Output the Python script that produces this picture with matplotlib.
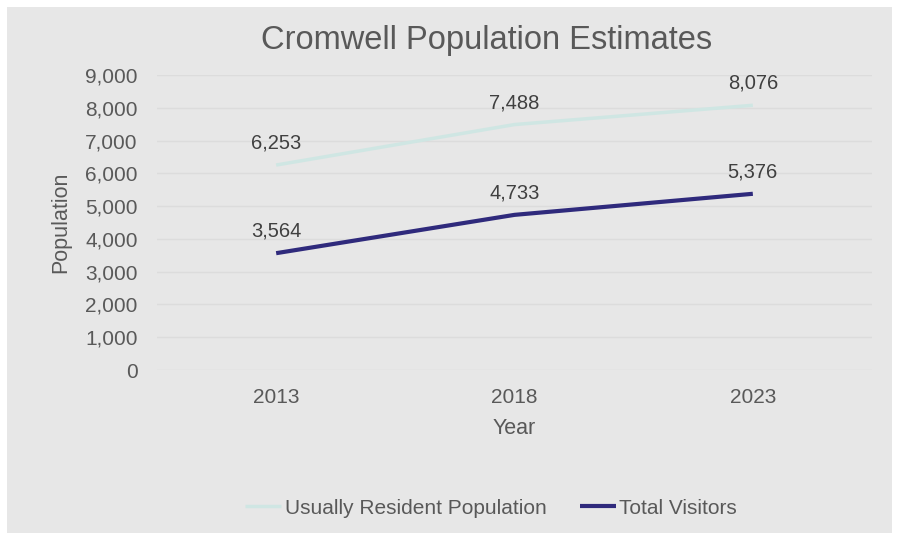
import matplotlib.pyplot as plt
from matplotlib.patches import Rectangle

# data
years = ["2013", "2018", "2023"]
resident = [6253, 7488, 8076]
visitors = [3564, 4733, 5376]

plt.rcParams['font.family'] = ['Liberation Sans', 'DejaVu Sans']

W, H = 899, 538
fig = plt.figure(figsize=(W / 100, H / 100), dpi=100, facecolor="white")
# grey chart area
fig.patches.append(Rectangle((7 / W, 5 / H), 885 / W, 526 / H, transform=fig.transFigure,
                             facecolor="#e7e7e7", edgecolor="none", zorder=-5))

ax = fig.add_axes([157 / W, 1 - 370 / H, 715 / W, 295 / H])
ax.set_facecolor("none")

x = list(range(len(years)))
ax.plot(x, resident, color="#cfe6e3", lw=2.5, solid_capstyle="butt", label="Usually Resident Population")
ax.plot(x, visitors, color="#2f2a7c", lw=3.0, solid_capstyle="butt", label="Total Visitors")

for i in x:
    ax.annotate(f"{resident[i]:,}", (i, resident[i]), xytext=(0, 9), textcoords="offset points",
                ha="center", va="bottom", fontsize=14.5, color="#404040")
    ax.annotate(f"{visitors[i]:,}", (i, visitors[i]), xytext=(0, 9), textcoords="offset points",
                ha="center", va="bottom", fontsize=14.5, color="#404040")

ax.set_xlim(-0.5, 2.5)
ax.set_ylim(0, 9000)
ax.set_yticks(range(0, 9001, 1000))
ax.set_yticklabels([f"{v:,}" for v in range(0, 9001, 1000)])
ax.set_xticks(x)
ax.set_xticklabels(years)
ax.tick_params(length=0, labelsize=15, colors="#595959")
ax.tick_params(axis="y", pad=14)
ax.tick_params(axis="x", pad=13)
ax.grid(axis="y", color="#dcdcdc", lw=1)
ax.set_axisbelow(True)
for s in ax.spines.values():
    s.set_visible(False)

ax.set_ylabel("Population", fontsize=15.5, color="#595959", labelpad=10)
ax.set_xlabel("Year", fontsize=15.5, color="#595959", labelpad=8)

fig.text(487 / W, 1 - 41 / H, "Cromwell Population Estimates", ha="center", va="center",
         fontsize=23.5, color="#595959")

fig.legend(loc="center", bbox_to_anchor=(491 / W, 1 - 508 / H), ncol=2, frameon=False,
           fontsize=15, labelcolor="#595959", handlelength=1.75, handletextpad=0.15,
           columnspacing=1.6)

fig.savefig("out.png", dpi=100, facecolor="white")
